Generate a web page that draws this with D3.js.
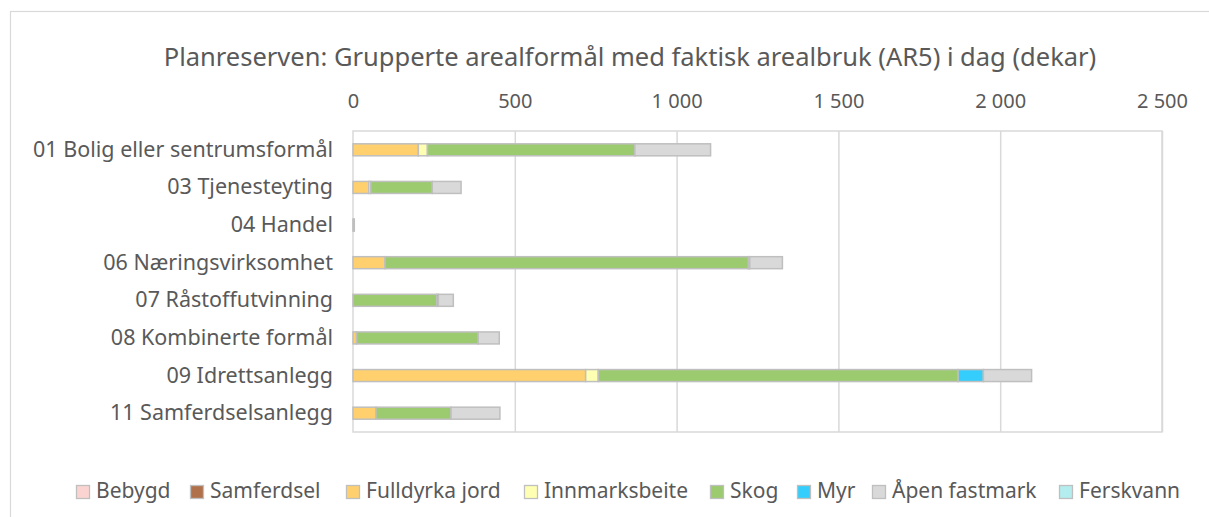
<!DOCTYPE html>
<html><head><meta charset="utf-8">
<script src="https://cdn.jsdelivr.net/npm/d3@7"></script>
<style>body{margin:0;background:#fff}svg{display:block}text{font-family:"Noto Sans",sans-serif;fill:#595959}</style>
</head><body><svg id="c" width="1209" height="517"></svg>
<script>
const categories = ["01 Bolig eller sentrumsformål","03 Tjenesteyting","04 Handel","06 Næringsvirksomhet","07 Råstoffutvinning","08 Kombinerte formål","09 Idrettsanlegg","11 Samferdselsanlegg"];
const seriesNames = ["Bebygd","Samferdsel","Fulldyrka jord","Innmarksbeite","Skog","Myr","Åpen fastmark","Ferskvann"];
const bebygd       = [0, 0, 0, 0, 0, 0, 0, 0];
const samferdsel   = [0, 0, 0, 0, 0, 0, 0, 0];
const fulldyrka    = [202, 49, 0, 99, 0, 11, 719, 71];
const innmark      = [28, 6, 0, 0, 0, 0, 39, 0];
const skog         = [641, 190, 2, 1123, 259, 376, 1112, 232];
const myr          = [0, 0, 0, 4, 5, 0, 78, 0];
const apen         = [234, 89, 2, 101, 46, 65, 149, 151];
const ferskvann    = [0, 0, 0, 0, 0, 0, 0, 0];
const colors = ["#fbd4d2","#b0714a","#ffd06d","#ffffb3","#9ccb6f","#35cdfb","#d9d9d9","#b3eded"];
const ticks = [0, 500, 1000, 1500, 2000, 2500];
const title = "Planreserven: Grupperte arealformål med faktisk arealbruk (AR5) i dag (dekar)";

const svg = d3.select("#c");
const W = 1209, H = 517;
svg.append("rect").attr("x",10.5).attr("y",11.5).attr("width",W).attr("height",H).attr("fill","#fff").attr("stroke","#d9d9d9").attr("stroke-width",1.2);

const m = {l:353, r:1162, t:131, b:432};
const x = d3.scaleLinear().domain([0,2500]).range([m.l, m.r]);
const y = d3.scaleBand().domain(categories).range([m.t, m.b]);

svg.append("text").attr("x",630).attr("y",66).attr("text-anchor","middle").style("font-size","25.5px").text(title);

// grid
svg.append("g").selectAll("line").data(ticks.slice(1)).join("line")
  .attr("x1",d=>x(d)+0.5).attr("x2",d=>x(d)+0.5).attr("y1",m.t).attr("y2",m.b)
  .attr("stroke","#d9d9d9").attr("stroke-width",1.5);
svg.append("rect").attr("x",m.l).attr("y",m.t).attr("width",m.r-m.l).attr("height",m.b-m.t)
  .attr("fill","none").attr("stroke","#d9d9d9").attr("stroke-width",1.5);

// top axis
const ax = d3.axisTop(x).tickValues(ticks).tickSize(0).tickPadding(0)
  .tickFormat(d=>d3.format(",")(d).replace(/,/g," "));
const gax = svg.append("g").attr("transform",`translate(0,108)`).call(ax);
gax.select(".domain").remove();
gax.selectAll("text").style("font-size","20px").style("font-family","'Noto Sans',sans-serif").attr("fill","#595959");

// y labels
svg.append("g").selectAll("text").data(categories).join("text")
  .attr("x",333).attr("y",d=>y(d)+y.bandwidth()/2+7).attr("text-anchor","end")
  .style("font-size","21.5px").text(d=>d);

// stacked bars
const arrs = [bebygd,samferdsel,fulldyrka,innmark,skog,myr,apen,ferskvann];
const rows = categories.map((c,i)=>{const o={cat:c}; seriesNames.forEach((s,j)=>o[s]=arrs[j][i]); return o;});
const stack = d3.stack().keys(seriesNames)(rows);
const bh = 12;
svg.append("g").selectAll("g").data(stack).join("g").attr("fill",(d,i)=>colors[i])
  .selectAll("rect").data(d=>d.filter(v=>v[1]-v[0]>0)).join("rect")
  .attr("x",d=>x(d[0])).attr("width",d=>x(d[1])-x(d[0]))
  .attr("y",d=>y(d.data.cat)+y.bandwidth()/2-bh/2).attr("height",bh)
  .attr("stroke","#bfbfbf").attr("stroke-width",1.5);

// legend
const lx = [76,190,346,524,710,797,872,1059];
const lg = svg.append("g").selectAll("g").data(seriesNames).join("g")
  .attr("transform",(d,i)=>`translate(${lx[i]},485)`);
lg.append("rect").attr("x",0.5).attr("y",0.5).attr("width",13).attr("height",13).attr("fill",(d,i)=>colors[i]).attr("stroke","#bfbfbf").attr("stroke-width",1.3);
lg.append("text").attr("x",20).attr("y",13).style("font-size","21px").text(d=>d);
</script></body></html>
